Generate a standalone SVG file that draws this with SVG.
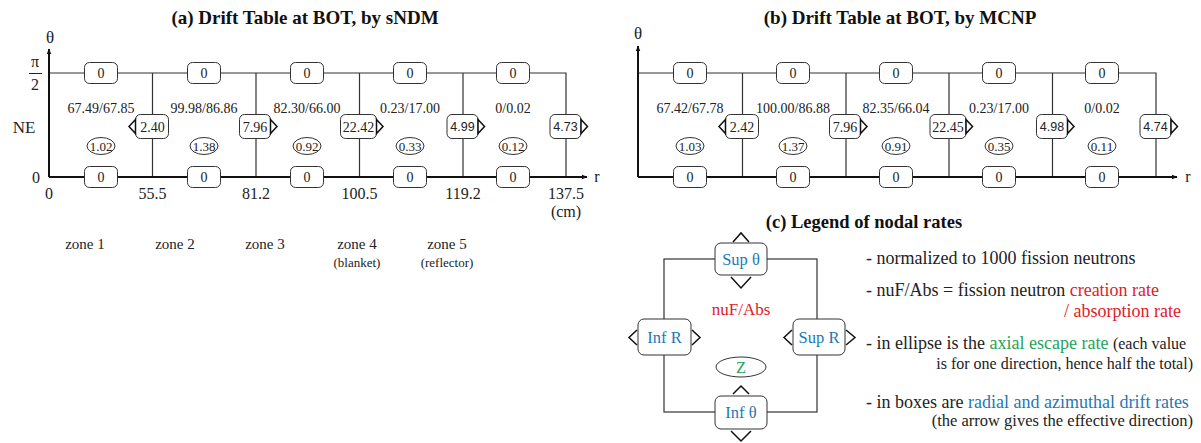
<svg xmlns="http://www.w3.org/2000/svg" width="1201" height="443" viewBox="0 0 1201 443">
<style>
text{font-family:"Liberation Serif","Times New Roman",serif;fill:#222}
.t{font-weight:bold;font-size:19px;text-anchor:middle;fill:#111}
.n{font-size:14px;text-anchor:middle}
.e{font-size:13px;text-anchor:middle}
.ns{font-family:"Liberation Sans",Arial,sans-serif;font-size:12.5px;text-anchor:middle}
.ax{font-size:16px;text-anchor:middle}
.z{font-size:15px;text-anchor:middle}
.zs{font-size:13px;text-anchor:middle}
.ln{stroke:#333;stroke-width:1.2;fill:none}
.axl{stroke:#111;stroke-width:2;fill:none}
.bx{fill:#fff;stroke:#333;stroke-width:1}
.tri{fill:#fff;stroke:#111;stroke-width:1.5;stroke-linejoin:miter}
.lg{font-size:18px}
.lgs{font-size:16px}
.lb{font-size:16.5px;text-anchor:middle;fill:#1f78b4}
.red{fill:#e0202a}
.grn{fill:#27a35a}
.blu{fill:#1f78b4}
</style>
<defs>
<marker id="ah" viewBox="0 0 10 10" refX="9" refY="5" markerWidth="6" markerHeight="6" orient="auto" markerUnits="userSpaceOnUse"><path d="M0,1 L10,5 L0,9 z" fill="#111"/></marker>
</defs>

<!-- Titles -->
<text class="t" x="305" y="24">(a) Drift Table at BOT, by sNDM</text>
<text class="t" x="900" y="24">(b) Drift Table at BOT, by MCNP</text>
<text class="t" x="864" y="228" style="font-size:18.5px">(c) Legend of nodal rates</text>

<!-- ===== Panel (a) ===== -->
<g id="connectors-a">
<path class="ln" d="M49,73 H566 V177"/>
<path class="ln" d="M152.5,73 V177 M256,73 V177 M359.5,73 V177 M463,73 V177"/>
<path class="axl" d="M49,177 V49" marker-end="url(#ah)"/>
<path class="axl" d="M49,177 H587" marker-end="url(#ah)"/>
</g>
<g id="axis-labels-a">
<text class="ax" x="50" y="43" style="font-size:17px">θ</text>
<text class="ax" x="35" y="67">π</text>
<line x1="29" y1="73.5" x2="42" y2="73.5" stroke="#222" stroke-width="1"/>
<text class="ax" x="35" y="90">2</text>
<text class="ax" x="24" y="133" style="font-size:17px">NE</text>
<text class="ax" x="36" y="183">0</text>
<text class="ax" x="49" y="199">0</text>
<text class="ax" x="597" y="182">r</text>
<text class="ax" x="152.5" y="199">55.5</text>
<text class="ax" x="256" y="199">81.2</text>
<text class="ax" x="359.5" y="199">100.5</text>
<text class="ax" x="463" y="199">119.2</text>
<text class="ax" x="566" y="199">137.5</text>
<text class="ax" x="566" y="217">(cm)</text>
</g>
<g id="zones-a">
<text class="z" x="85" y="248.5">zone 1</text>
<text class="z" x="175" y="248.5">zone 2</text>
<text class="z" x="265" y="248.5">zone 3</text>
<text class="z" x="357" y="248.5">zone 4</text>
<text class="zs" x="357" y="267">(blanket)</text>
<text class="z" x="447" y="248.5">zone 5</text>
<text class="zs" x="447" y="267">(reflector)</text>
</g>
<g id="a-top">
<rect class="bx" x="84.5" y="62.5" width="33" height="21" rx="5"/><text class="n" x="101" y="78">0</text>
<rect class="bx" x="187.5" y="62.5" width="33" height="21" rx="5"/><text class="n" x="204" y="78">0</text>
<rect class="bx" x="290.5" y="62.5" width="33" height="21" rx="5"/><text class="n" x="307" y="78">0</text>
<rect class="bx" x="393.5" y="62.5" width="33" height="21" rx="5"/><text class="n" x="410" y="78">0</text>
<rect class="bx" x="496.5" y="62.5" width="33" height="21" rx="5"/><text class="n" x="513" y="78">0</text>
</g>
<g id="a-bottom">
<rect class="bx" x="84.5" y="166.5" width="33" height="21" rx="5"/><text class="n" x="101" y="182">0</text>
<rect class="bx" x="187.5" y="166.5" width="33" height="21" rx="5"/><text class="n" x="204" y="182">0</text>
<rect class="bx" x="290.5" y="166.5" width="33" height="21" rx="5"/><text class="n" x="307" y="182">0</text>
<rect class="bx" x="393.5" y="166.5" width="33" height="21" rx="5"/><text class="n" x="410" y="182">0</text>
<rect class="bx" x="496.5" y="166.5" width="33" height="21" rx="5"/><text class="n" x="513" y="182">0</text>
</g>
<g id="a-nuf">
<text class="n" x="101" y="113">67.49/67.85</text>
<text class="n" x="204" y="113">99.98/86.86</text>
<text class="n" x="307" y="113">82.30/66.00</text>
<text class="n" x="410" y="113">0.23/17.00</text>
<text class="n" x="513" y="113">0/0.02</text>
</g>
<g id="a-ellipses">
<ellipse class="bx" cx="101" cy="146" rx="14" ry="8.5"/><text class="e" x="101" y="150.5">1.02</text>
<ellipse class="bx" cx="204" cy="146" rx="14" ry="8.5"/><text class="e" x="204" y="150.5">1.38</text>
<ellipse class="bx" cx="307" cy="146" rx="14" ry="8.5"/><text class="e" x="307" y="150.5">0.92</text>
<ellipse class="bx" cx="410" cy="146" rx="14" ry="8.5"/><text class="e" x="410" y="150.5">0.33</text>
<ellipse class="bx" cx="513" cy="146" rx="14" ry="8.5"/><text class="e" x="513" y="150.5">0.12</text>
</g>
<g id="a-radial">
<rect class="bx" x="135.5" y="114.5" width="33" height="24" rx="5"/><text class="n" x="152.5" y="131.5">2.40</text>
<path class="tri" d="M135.5,119.5 L129,126.5 L135.5,133.5 z"/>
<rect class="bx" x="239.5" y="114.5" width="31" height="24" rx="5"/><text class="n" x="255" y="131.5">7.96</text>
<path class="tri" d="M270.5,119.5 L277,126.5 L270.5,133.5 z"/>
<rect class="bx" x="340.5" y="114.5" width="36" height="24" rx="5"/><text class="n" x="358.5" y="131.5">22.42</text>
<path class="tri" d="M376.5,119.5 L383,126.5 L376.5,133.5 z"/>
<rect class="bx" x="447" y="114.5" width="31" height="24" rx="5"/><text class="ns" x="462.5" y="131">4.99</text>
<path class="tri" d="M478,119.5 L484.5,126.5 L478,133.5 z"/>
<rect class="bx" x="550" y="114.5" width="31" height="24" rx="5"/><text class="ns" x="565.5" y="131">4.73</text>
<path class="tri" d="M581,119.5 L587.5,126.5 L581,133.5 z"/>
</g>

<!-- ===== Panel (b) ===== -->
<g id="connectors-b">
<path class="ln" d="M638,73 H1156 V177"/>
<path class="ln" d="M742.5,73 V177 M846,73 V177 M949,73 V177 M1052.5,73 V177"/>
<path class="axl" d="M638,177 V46" marker-end="url(#ah)"/>
<path class="axl" d="M638,177 H1177" marker-end="url(#ah)"/>
</g>
<g id="axis-labels-b">
<text class="ax" x="638" y="39" style="font-size:17px">θ</text>
<text class="ax" x="1188" y="182">r</text>
</g>
<g id="b-top">
<rect class="bx" x="673.5" y="62.5" width="33" height="21" rx="5"/><text class="n" x="690" y="78">0</text>
<rect class="bx" x="776.5" y="62.5" width="33" height="21" rx="5"/><text class="n" x="793" y="78">0</text>
<rect class="bx" x="879.5" y="62.5" width="33" height="21" rx="5"/><text class="n" x="896" y="78">0</text>
<rect class="bx" x="982.5" y="62.5" width="33" height="21" rx="5"/><text class="n" x="999" y="78">0</text>
<rect class="bx" x="1085.5" y="62.5" width="33" height="21" rx="5"/><text class="n" x="1102" y="78">0</text>
</g>
<g id="b-bottom">
<rect class="bx" x="673.5" y="166.5" width="33" height="21" rx="5"/><text class="n" x="690" y="182">0</text>
<rect class="bx" x="776.5" y="166.5" width="33" height="21" rx="5"/><text class="n" x="793" y="182">0</text>
<rect class="bx" x="879.5" y="166.5" width="33" height="21" rx="5"/><text class="n" x="896" y="182">0</text>
<rect class="bx" x="982.5" y="166.5" width="33" height="21" rx="5"/><text class="n" x="999" y="182">0</text>
<rect class="bx" x="1085.5" y="166.5" width="33" height="21" rx="5"/><text class="n" x="1102" y="182">0</text>
</g>
<g id="b-nuf">
<text class="n" x="690" y="113">67.42/67.78</text>
<text class="n" x="793" y="113">100.00/86.88</text>
<text class="n" x="896" y="113">82.35/66.04</text>
<text class="n" x="999" y="113">0.23/17.00</text>
<text class="n" x="1102" y="113">0/0.02</text>
</g>
<g id="b-ellipses">
<ellipse class="bx" cx="690" cy="146" rx="14" ry="8.5"/><text class="e" x="690" y="150.5">1.03</text>
<ellipse class="bx" cx="793" cy="146" rx="14" ry="8.5"/><text class="e" x="793" y="150.5">1.37</text>
<ellipse class="bx" cx="896" cy="146" rx="14" ry="8.5"/><text class="e" x="896" y="150.5">0.91</text>
<ellipse class="bx" cx="999" cy="146" rx="14" ry="8.5"/><text class="e" x="999" y="150.5">0.35</text>
<ellipse class="bx" cx="1102" cy="146" rx="14" ry="8.5"/><text class="e" x="1102" y="150.5">0.11</text>
</g>
<g id="b-radial">
<rect class="bx" x="725.5" y="114.5" width="33" height="24" rx="5"/><text class="n" x="742" y="131.5">2.42</text>
<path class="tri" d="M725.5,119.5 L719,126.5 L725.5,133.5 z"/>
<rect class="bx" x="829.5" y="114.5" width="31" height="24" rx="5"/><text class="n" x="845" y="131.5">7.96</text>
<path class="tri" d="M860.5,119.5 L867,126.5 L860.5,133.5 z"/>
<rect class="bx" x="930" y="114.5" width="36" height="24" rx="5"/><text class="n" x="948" y="131.5">22.45</text>
<path class="tri" d="M966,119.5 L972.5,126.5 L966,133.5 z"/>
<rect class="bx" x="1036.5" y="114.5" width="31" height="24" rx="5"/><text class="ns" x="1052" y="131">4.98</text>
<path class="tri" d="M1067.5,119.5 L1074,126.5 L1067.5,133.5 z"/>
<rect class="bx" x="1140" y="114.5" width="31" height="24" rx="5"/><text class="ns" x="1155.5" y="131">4.74</text>
<path class="tri" d="M1171,119.5 L1177.5,126.5 L1171,133.5 z"/>
</g>

<!-- ===== Panel (c) legend ===== -->
<g id="connectors-c">
<rect class="ln" x="664" y="259" width="153" height="153"/>
</g>
<g id="sup-theta">
<rect class="bx" x="715" y="243" width="52" height="32" rx="6"/>
<text class="lb" x="741" y="265">Sup θ</text>
<path class="tri" d="M733,242 L741,233 L749,242"/>
<path class="tri" d="M731,277 L741,288 L751,277"/>
</g>
<g id="inf-r">
<rect class="bx" x="638" y="319" width="53" height="36" rx="6"/>
<text class="lb" x="664.5" y="343">Inf R</text>
<path class="tri" d="M637,330 L629,337.5 L637,345"/>
<path class="tri" d="M692,330 L700,337.5 L692,345"/>
</g>
<g id="sup-r">
<rect class="bx" x="793" y="319" width="52" height="36" rx="6"/>
<text class="lb" x="819" y="343">Sup R</text>
<path class="tri" d="M792,330 L784,337.5 L792,345"/>
<path class="tri" d="M846,330 L855,337.5 L846,345"/>
</g>
<g id="nuf-abs">
<text class="lg red" x="741" y="315" text-anchor="middle" style="font-size:17px">nuF/Abs</text>
</g>
<g id="z">
<ellipse class="bx" cx="741" cy="367" rx="25" ry="10"/>
<text class="lb grn" x="741" y="373" style="fill:#27a35a">Z</text>
</g>
<g id="inf-theta">
<rect class="bx" x="715" y="396" width="52" height="33" rx="6"/>
<text class="lb" x="741" y="418">Inf θ</text>
<path class="tri" d="M733,394 L741,386 L749,394"/>
<path class="tri" d="M731,431 L741,441 L751,431"/>
</g>
<g id="legend-text">
<text class="lg" x="866" y="264">- normalized to 1000 fission neutrons</text>
<text class="lg" x="866" y="296">- nuF/Abs = fission neutron <tspan class="red">creation rate</tspan></text>
<text class="lg red" x="1181" y="317" text-anchor="end">/ absorption rate</text>
<text class="lg" x="866" y="349">- in ellipse is the <tspan class="grn">axial escape rate</tspan> <tspan style="font-size:16px">(each value</tspan></text>
<text class="lgs" x="1193" y="369" text-anchor="end">is for one direction, hence half the total)</text>
<text class="lg" x="866" y="408">- in boxes are <tspan class="blu">radial and azimuthal drift rates</tspan></text>
<text class="lgs" x="1193" y="426" text-anchor="end" style="font-size:16.5px">(the arrow gives the effective direction)</text>
</g>
</svg>
